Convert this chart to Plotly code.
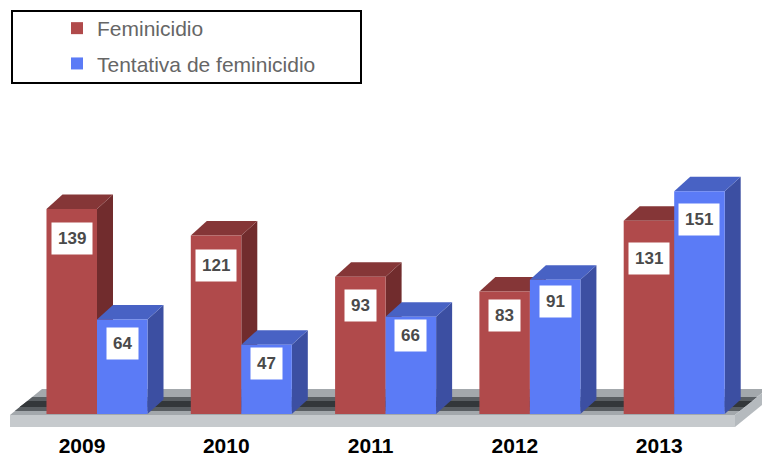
import plotly.graph_objects as go

# ---- data ----
years = ["2009", "2010", "2011", "2012", "2013"]
feminicidio = [139, 121, 93, 83, 131]
tentativa = [64, 47, 66, 91, 151]
series_names = ["Feminicidio", "Tentativa de feminicidio"]

# ---- layout geometry ----
# the page body adds an 8px margin, so the figure is 8px smaller and all
# reference pixel positions are shifted by 8px.
PAGE_OFF = 8
W, H = 770 - PAGE_OFF, 457 - PAGE_OFF
ML, MR, MT, MB = 0, 0, 0, 28
PLOT_W = W - ML - MR
PLOT_H = H - MT - MB
PX_PER_X = 144.3
X0 = -(97 - PAGE_OFF) / PX_PER_X
X1 = X0 + PLOT_W / PX_PER_X
BASE_PX = 414 - PAGE_OFF
PX_PER_Y = 1.475
Y1 = BASE_PX / PX_PER_Y
Y0 = -(PLOT_H - BASE_PX) / PX_PER_Y


def xd(px):  # reference screen pixel -> x axis value
    return X0 + (px - PAGE_OFF - ML) / PX_PER_X


def yd(py):  # reference screen pixel -> y axis value
    return (BASE_PX - (py - PAGE_OFF - MT)) / PX_PER_Y


def xp(px):  # reference screen pixel -> paper x
    return (px - PAGE_OFF - ML) / PLOT_W


def yp(py):  # reference screen pixel -> paper y
    return 1 - (py - PAGE_OFF - MT) / PLOT_H


BW = 0.35                 # bar width (axis units)
DX = 16 / PX_PER_X        # 3D depth offsets
DY = 14.5 / PX_PER_Y

RED = dict(front="#B04A4B", side="#712C2D", top="#853637")
BLUE = dict(front="#5B7BF6", side="#3C4FA2", top="#4862C4")

xs = list(range(len(years)))

fig = go.Figure()
fig.add_trace(go.Bar(
    x=xs, y=feminicidio, name=series_names[0], width=BW, offset=-BW,
    legendgroup="a",
    marker=dict(color=RED["front"], line=dict(width=0)), hoverinfo="y"))
fig.add_trace(go.Bar(
    x=xs, y=tentativa, name=series_names[1], width=BW, offset=0,
    legendgroup="b",
    marker=dict(color=BLUE["front"], line=dict(width=0)), hoverinfo="y"))


def path(pts):
    return "M " + " L ".join(f"{x:.4f},{y:.4f}" for x, y in pts) + " Z"


shapes = []
# floor (platform)
fl_l, fl_r = xd(10), xd(735)
fl_dx = xd(767) - xd(735)
fl_front, fl_back, fl_bottom = yd(415), yd(389), yd(427)
floor_style = dict(type="path", xref="x", yref="y", layer="below", line=dict(width=0))
shapes.append(dict(floor_style, path=path([(fl_l, fl_front), (fl_l + fl_dx, fl_back),
                                           (fl_r + fl_dx, fl_back), (fl_r, fl_front)]),
                   fillcolor="#a3a8ac"))
shapes.append(dict(floor_style, path=path([(fl_l + fl_dx * 0.15, yd(411)), (fl_l + fl_dx * 0.7, yd(397)),
                                           (fl_r + fl_dx * 0.7, yd(397)), (fl_r + fl_dx * 0.15, yd(411))]),
                   fillcolor="#595e62"))
shapes.append(dict(floor_style, path=path([(fl_l + fl_dx * 0.3, yd(407)), (fl_l + fl_dx * 0.55, yd(401)),
                                           (fl_r + fl_dx * 0.55, yd(401)), (fl_r + fl_dx * 0.3, yd(407))]),
                   fillcolor="#33373a"))
shapes.append(dict(floor_style, path=path([(fl_l, fl_front), (fl_r, fl_front),
                                           (fl_r, fl_bottom), (fl_l, fl_bottom)]),
                   fillcolor="#c6cacd"))
shapes.append(dict(floor_style, path=path([(fl_r, fl_front), (fl_r + fl_dx, fl_back),
                                           (fl_r + fl_dx, fl_back - (fl_front - fl_bottom)), (fl_r, fl_bottom)]),
                   fillcolor="#b5babe"))

# 3D side and top faces of each bar
for i in xs:
    for v, off, col in ((feminicidio[i], -BW, RED), (tentativa[i], 0, BLUE)):
        xl = i + off
        xr = xl + BW
        shapes.append(dict(type="path", xref="x", yref="y", layer="below", line=dict(width=0),
                           fillcolor=col["side"],
                           path=path([(xr, 0), (xr + DX, DY), (xr + DX, v + DY), (xr, v)])))
        shapes.append(dict(type="path", xref="x", yref="y", layer="below", line=dict(width=0),
                           fillcolor=col["top"],
                           path=path([(xl, v), (xl + DX, v + DY), (xr + DX, v + DY), (xr, v)])))

# legend frame
shapes.append(dict(type="rect", xref="paper", yref="paper",
                   x0=xp(12), x1=xp(361), y0=yp(83), y1=yp(11),
                   line=dict(color="black", width=2), fillcolor="rgba(0,0,0,0)"))

# value labels
red_label_drop = [13, 13, 12, 7, 21]
blue_label_drop = [7, 2, 2, 5, 12]
annotations = []
for i in xs:
    for v, cx, drop in ((feminicidio[i], i - BW / 2, red_label_drop[i]),
                        (tentativa[i], i + BW / 2, blue_label_drop[i])):
        annotations.append(dict(
            x=cx, y=v, xref="x", yref="y", text=str(v), showarrow=False,
            yanchor="top", yshift=-drop, bgcolor="white", borderpad=6,
            font=dict(family="Liberation Sans, Arial", size=17, color="#4a4a4a", weight="bold")))

fig.update_layout(
    width=W, height=H,
    margin=dict(l=ML, r=MR, t=MT, b=MB, autoexpand=False),
    paper_bgcolor="white", plot_bgcolor="white",
    barmode="overlay",
    shapes=shapes, annotations=annotations,
    showlegend=True,
    legend=dict(x=xp(57), y=yp(8), xanchor="left", yanchor="top",
                bgcolor="rgba(0,0,0,0)", borderwidth=0,
                font=dict(family="Liberation Sans, Arial", size=21, color="#666666"),
                tracegroupgap=5, traceorder="grouped"),
    xaxis=dict(range=[X0, X1], tickmode="array", tickvals=xs, ticktext=years,
               showgrid=False, zeroline=False, showline=False, ticks="",
               automargin=False,
               ticklabelshift=-15, ticklabelstandoff=2,
               tickfont=dict(family="Liberation Sans, Arial", size=21, color="black", weight="bold"),
               fixedrange=True),
    yaxis=dict(range=[Y0, Y1], showgrid=False, zeroline=False, showline=False,
               automargin=False,
               showticklabels=False, ticks="", fixedrange=True),
)

fig.write_html("out.html")
